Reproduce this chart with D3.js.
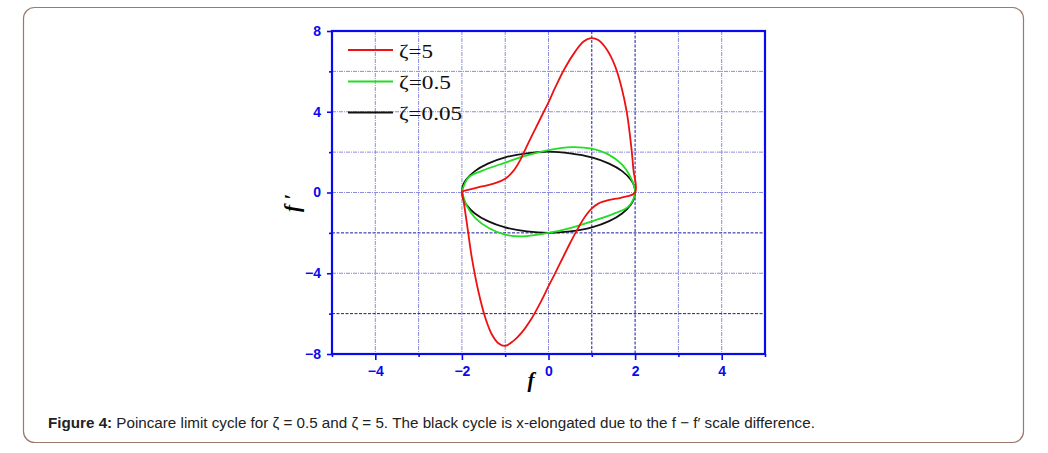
<!DOCTYPE html>
<html><head><meta charset="utf-8">
<script src="https://cdn.jsdelivr.net/npm/d3@7/dist/d3.min.js"></script>
<style>
body{margin:0;background:#fff;}
svg{display:block;}
</style></head>
<body>
<svg id="c" width="1048" height="453"></svg>
<script>
// ---- data ----
const xMajorTicks = [-4, -2, 0, 2, 4];
const xMinorTicks = [-5, -3, -1, 1, 3, 5];
const yMajorTicks = [-8, -4, 0, 4, 8];
const yMinorTicks = [-6, -2, 2, 6];
const xGridLight = [-4, -3, -2, -1, 0, 3, 4];
const xGridDark = [1, 2];
const yGridLight = [6, 4, 2, 0, -4];
const yGridDark = [-2, -6];

const seriesNames = ["ζ=5", "ζ=0.5", "ζ=0.05"];
const seriesColors = ["#ee1111", "#22dd22", "#111111"];

// ζ = 5 (f, f')
const redF  = [-2,-1.54,-1.23,-1.0,-0.81,-0.65,-0.5,-0.31,-0.12,0,0.15,0.38,0.62,0.81,0.98,1.15,1.35,1.54,1.69,1.81,1.91,1.96,2,
               1.69,1.38,1.15,1.0,0.85,0.69,0.5,0.31,0.12,0,-0.15,-0.38,-0.62,-0.81,-1.0,-1.15,-1.31,-1.46,-1.62,-1.77,-1.88,-1.96,-2];
const redFp = [0.05,0.3,0.46,0.68,1.07,1.62,2.3,3.13,3.95,4.47,5.18,6.17,6.99,7.48,7.65,7.55,7.07,6.25,5.18,3.95,2.3,1.15,0,
               -0.25,-0.38,-0.55,-0.79,-1.18,-1.74,-2.5,-3.32,-4.14,-4.64,-5.3,-6.2,-6.94,-7.35,-7.6,-7.48,-7.02,-6.2,-4.89,-3.24,-1.6,-0.44,0.05];
// ζ = 0.5
const greenF  = [-2,-1.85,-1.54,-1.0,-0.5,0,0.54,1.0,1.38,1.69,1.88,2,
                 1.85,1.54,1.0,0.5,0,-0.62,-1.0,-1.38,-1.69,-1.88,-2];
const greenFp = [0.05,0.74,1.07,1.48,1.84,2.1,2.25,2.17,1.89,1.4,0.82,0.05,
                 -0.69,-1.02,-1.43,-1.76,-2.0,-2.17,-2.09,-1.76,-1.27,-0.69,0.05];
// ζ = 0.05
const blackF  = [-2,-1.97,-1.9,-1.7,-1.4,-1,-0.5,0,0.5,1,1.4,1.7,1.9,1.97,2,
                 1.97,1.9,1.7,1.4,1,0.5,0,-0.5,-1,-1.4,-1.7,-1.9,-1.97,-2];
const blackFp = [0.05,0.38,0.64,1.06,1.43,1.74,1.94,2.02,1.94,1.74,1.43,1.06,0.64,0.38,0.05,
                 -0.33,-0.6,-1.04,-1.42,-1.73,-1.93,-2.0,-1.93,-1.73,-1.42,-1.04,-0.6,-0.33,0.05];

const captionBold = "Figure 4:";
const captionText = " Poincare limit cycle for ζ = 0.5 and ζ = 5. The black cycle is x-elongated due to the f − f′ scale difference.";

// ---- drawing ----
const svg = d3.select("#c");
const L = 332, R = 765, T = 31, B = 354;
const x = d3.scaleLinear().domain([-5, 5]).range([L, R]);
const y = d3.scaleLinear().domain([-8, 8]).range([B, T]);
const axisColor = "#0a0aee";

// card
svg.append("rect").attr("x", 23.5).attr("y", 7.5).attr("width", 1000).attr("height", 435)
  .attr("rx", 11).attr("fill", "#fff").attr("stroke", "#9b7a6c").attr("stroke-width", 1.2);

// grid
const g = svg.append("g");
g.selectAll(".gxl").data(xGridLight).join("line")
  .attr("x1", d => x(d)).attr("x2", d => x(d)).attr("y1", T).attr("y2", B)
  .attr("stroke", "#8c8ce0").attr("stroke-width", 1).attr("stroke-dasharray", "4,1,1,1");
g.selectAll(".gyl").data(yGridLight).join("line")
  .attr("y1", d => y(d)).attr("y2", d => y(d)).attr("x1", L).attr("x2", R)
  .attr("stroke", "#8c8ce0").attr("stroke-width", 1).attr("stroke-dasharray", "4,1,1,1");
g.selectAll(".gxd").data(xGridDark).join("line")
  .attr("x1", d => x(d)).attr("x2", d => x(d)).attr("y1", T).attr("y2", B)
  .attr("stroke", "#1818a0").attr("stroke-width", 1).attr("stroke-dasharray", "3,1.5");
g.selectAll(".gyd").data(yGridDark).join("line")
  .attr("y1", d => y(d)).attr("y2", d => y(d)).attr("x1", L).attr("x2", R)
  .attr("stroke", "#1818a0").attr("stroke-width", 1).attr("stroke-dasharray", "3,1.5");

// curves
const series = [
  {f: redF, fp: redFp},
  {f: greenF, fp: greenFp},
  {f: blackF, fp: blackFp}
];
const line = d3.line().x(d => x(d[0])).y(d => y(d[1])).curve(d3.curveCatmullRom.alpha(0.5));
[2, 1, 0].forEach(i => {
  const pts = series[i].f.map((v, k) => [v, series[i].fp[k]]);
  svg.append("path").datum(pts).attr("d", line)
    .attr("fill", "none").attr("stroke", seriesColors[i]).attr("stroke-width", 1.8)
    .attr("stroke-linejoin", "round");
});

// axes frame
svg.append("rect").attr("x", L).attr("y", T).attr("width", R - L).attr("height", B - T)
  .attr("fill", "none").attr("stroke", axisColor).attr("stroke-width", 2.2);

function styleAxis(sel) {
  sel.select(".domain").remove();
  sel.selectAll("line").attr("stroke", axisColor).attr("stroke-width", 1.6);
  sel.selectAll("text").attr("fill", axisColor).attr("font-family", "Arial, 'Liberation Sans', sans-serif")
    .attr("font-weight", "bold").attr("font-size", 14);
}
const xa = svg.append("g").attr("transform", `translate(0,${B})`)
  .call(d3.axisBottom(x).tickValues(xMajorTicks).tickSize(6).tickPadding(6).tickFormat(d3.format("d")));
styleAxis(xa);
const xm = svg.append("g").attr("transform", `translate(0,${B})`)
  .call(d3.axisBottom(x).tickValues(xMinorTicks).tickSize(3).tickFormat(""));
styleAxis(xm);
const ya = svg.append("g").attr("transform", `translate(${L},0)`)
  .call(d3.axisLeft(y).tickValues(yMajorTicks).tickSize(5).tickPadding(6).tickFormat(d3.format("d")));
styleAxis(ya);
const ym = svg.append("g").attr("transform", `translate(${L},0)`)
  .call(d3.axisLeft(y).tickValues(yMinorTicks).tickSize(3).tickFormat(""));
styleAxis(ym);

// axis titles
svg.append("text").attr("x", 531).attr("y", 387).text("f")
  .attr("font-family", "'Liberation Serif', 'Times New Roman', serif").attr("font-style", "italic")
  .attr("font-weight", "bold").attr("font-size", 21).attr("text-anchor", "middle").attr("fill", "#000");
svg.append("text").attr("transform", "translate(299,203) rotate(-90)").text("f ′")
  .attr("font-family", "'Liberation Serif', 'Times New Roman', serif").attr("font-style", "italic")
  .attr("font-weight", "bold").attr("font-size", 21).attr("text-anchor", "middle").attr("fill", "#000");

// legend
const legY = [50, 81.5, 112.5];
const legW = [34, 52, 63];
seriesNames.forEach((n, i) => {
  svg.append("line").attr("x1", 348).attr("x2", 393).attr("y1", legY[i]).attr("y2", legY[i])
    .attr("stroke", seriesColors[i]).attr("stroke-width", 1.8);
  svg.append("text").attr("x", 399).attr("y", legY[i] + 7.5).text(n)
    .attr("font-family", "'Liberation Serif', 'Times New Roman', serif").attr("font-size", 19)
    .attr("fill", "#111").attr("textLength", legW[i]).attr("lengthAdjust", "spacingAndGlyphs");
});

// caption
const cap = svg.append("text").attr("x", 48).attr("y", 428)
  .attr("font-family", "Arial, 'Liberation Sans', sans-serif").attr("font-size", 15.2).attr("fill", "#222");
cap.append("tspan").attr("font-weight", "bold").text(captionBold);
cap.append("tspan").text(captionText);
</script>
</body></html>
